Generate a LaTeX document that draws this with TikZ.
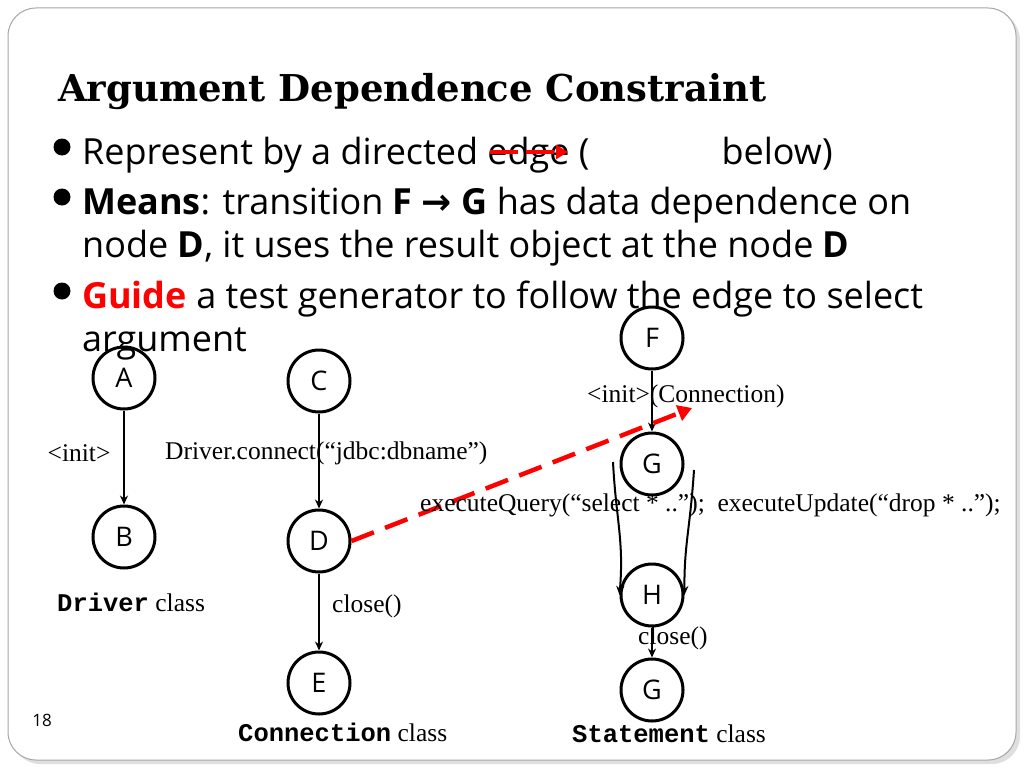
\documentclass[tikz,border=0pt]{standalone}
\usepackage{fontspec}
\setmainfont{Liberation Serif}
\newfontfamily\bodyf{Open Sans}
\newfontfamily\monof{Liberation Mono}
\newfontfamily\symf{DejaVu Sans}
\newfontfamily\titlef{DejaVu Serif}
\usetikzlibrary{arrows.meta}
\begin{document}
\begin{tikzpicture}[x=1pt,y=-1pt,
 st/.style={circle,draw,line width=3pt,minimum size=62pt,inner sep=0pt,font=\bodyf\fontsize{27}{27}\selectfont},
 ed/.style={line width=2pt,-{Stealth[length=9pt,width=8pt]}},
 lb/.style={font=\fontsize{25.5}{25.5}\selectfont,inner sep=0pt},
 bt/.style={font=\bodyf\fontsize{36}{36}\selectfont,anchor=base west,inner sep=0pt},
 bul/.style={circle,fill,minimum size=17pt,inner sep=0pt}]
\useasboundingbox (0,0) rectangle (1024,768);
\fill[gray!25] (12,12) [rounded corners=28pt] rectangle (1020,764);
\draw[gray!70,fill=white,line width=1pt,rounded corners=28pt] (8,8) rectangle (1016,760);
\node[anchor=base west,inner sep=0pt,font=\titlef\bfseries\fontsize{37}{37}\selectfont] (title) at (58,101) {Argument Dependence Constraint};
\node[bul] (b1) at (62,147) {};
\node[bt] (t1) at (82,164) {Represent by a directed edge (\hspace{132pt}below)};
\node[bul] (b2) at (62,197) {};
\node[bt] (t2) at (82,214) {\textbf{Means}: transition \textbf{F} {\symf\bfseries →} \textbf{G} has data dependence on};
\node[bt] (t3) at (82,257) {node \textbf{D}, it uses the result object at the node \textbf{D}};
\node[bul] (b3) at (62,291) {};
\node[bt] (t4) at (82,308) {\textcolor{red}{\textbf{Guide}} a test generator to follow the edge to select};
\node[bt] (t5) at (82,351) {argument};
\coordinate (ra) at (490,152); \coordinate (rb) at (568,152);
\draw[red,line width=4pt,dash pattern=on 28pt off 8pt,-{Triangle[length=12pt,width=14pt]}] (ra) -- (rb);
\node[st] (A) at (124,378) {A};
\node[st] (B) at (124,537) {B};
\node[st] (C) at (319,381) {C};
\node[st] (D) at (319,541) {D};
\node[st] (E) at (319,683) {E};
\node[st] (F) at (652,338) {F};
\node[st] (G) at (652,464) {G};
\node[st] (H) at (652,595) {H};
\node[st] (G2) at (652,690) {G};
\draw[ed] (A) -- (B);
\draw[ed] (C) -- (D);
\draw[ed] (D) -- (E);
\draw[ed] (F) -- (G);
\draw[ed] (H) -- (G2);
\coordinate (gl) at (613,462); \coordinate (gr) at (694,470);
\draw[ed] (gl) .. controls (616,520) and (624,540) .. (H.west);
\draw[ed] (gr) .. controls (690,530) and (684,545) .. (H.east);
\coordinate (rt) at (692,408);
\draw[red,line width=4.5pt,dash pattern=on 24pt off 12pt,-{Triangle[length=14pt,width=16pt]}] (D.east) -- (rt);
\node[lb] (l1) at (79,453) {<init>};
\node[lb,anchor=west] (l2) at (165,453) {Driver.connect(“jdbc:dbname”)};
\node[lb,anchor=west] (l3) at (587,396) {<init>(Connection)};
\node[lb,anchor=west] (l4) at (420,505) {executeQuery(“select * ..”);\ \ executeUpdate(“drop * ..”);};
\node[lb,anchor=west] (l5) at (332,606) {close()};
\node[lb,anchor=west] (l6) at (638,638) {close()};
\node[lb,anchor=west] (l7) at (57,602) {{\monof\bfseries Driver} class};
\node[lb,anchor=west] (l8) at (238,732) {{\monof\bfseries Connection} class};
\node[lb,anchor=west] (l9) at (572,734) {{\monof\bfseries Statement} class};
\node[font=\bodyf\fontsize{17}{17}\selectfont] (pg) at (42,720) {18};
\end{tikzpicture}
\end{document}
